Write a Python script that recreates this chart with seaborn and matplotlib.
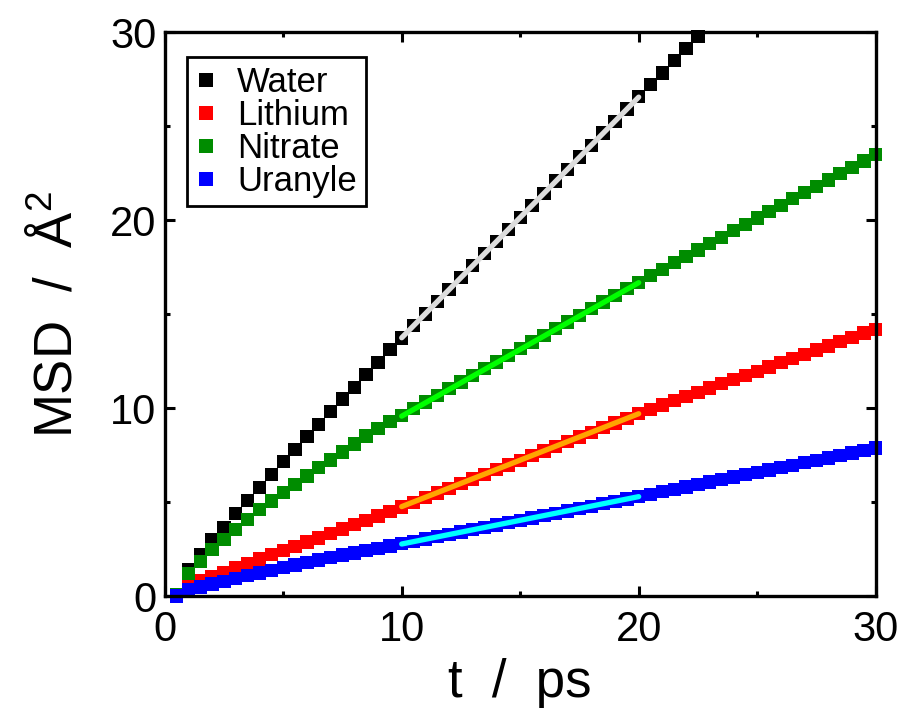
import numpy as np
import pandas as pd
import seaborn as sns
from matplotlib import pyplot as plt


# time grid of the MSD curves (every 0.5 ps)
t_ps = np.arange(0.5, 30.01, 0.5)

# MSD (A^2); water leaves the frame after 22.5 ps
water = [0.10, 1.43, 2.20, 3.00, 3.66, 4.42, 5.09, 5.78, 6.46, 7.17,
         7.82, 8.50, 9.15, 9.83, 10.49, 11.11, 11.78, 12.44, 13.11, 13.73,
         14.40, 15.02, 15.68, 16.30, 16.96, 17.58, 18.24, 18.86, 19.52, 20.14,
         20.80, 21.42, 22.08, 22.70, 23.36, 23.98, 24.64, 25.26, 25.92, 26.58,
         27.22, 27.84, 28.48, 29.12, 29.76]
lithium = [0.05, 0.57, 0.83, 1.06, 1.28, 1.51, 1.76, 1.99, 2.22, 2.45,
           2.66, 2.88, 3.10, 3.33, 3.57, 3.80, 4.04, 4.27, 4.51, 4.75,
           5.00, 5.25, 5.50, 5.74, 5.99, 6.24, 6.49, 6.74, 6.98, 7.23,
           7.48, 7.73, 7.98, 8.22, 8.47, 8.72, 8.97, 9.22, 9.46, 9.71,
           9.94, 10.17, 10.40, 10.62, 10.85, 11.07, 11.30, 11.52, 11.75, 11.97,
           12.20, 12.42, 12.65, 12.87, 13.10, 13.32, 13.55, 13.77, 14.00, 14.20]
nitrate = [0.08, 1.22, 1.85, 2.47, 3.02, 3.56, 4.10, 4.60, 5.06, 5.52,
           5.95, 6.40, 6.84, 7.24, 7.67, 8.10, 8.52, 8.92, 9.30, 9.62,
           9.97, 10.33, 10.68, 11.04, 11.39, 11.75, 12.10, 12.46, 12.81, 13.17,
           13.52, 13.88, 14.23, 14.59, 14.94, 15.30, 15.65, 16.01, 16.36, 16.70,
           17.05, 17.39, 17.74, 18.08, 18.42, 18.76, 19.10, 19.44, 19.78, 20.12,
           20.46, 20.80, 21.14, 21.47, 21.81, 22.14, 22.48, 22.82, 23.15, 23.50]
uranyle = [0.02, 0.36, 0.49, 0.65, 0.80, 0.94, 1.10, 1.24, 1.38, 1.52,
           1.66, 1.79, 1.93, 2.06, 2.19, 2.31, 2.43, 2.55, 2.67, 2.79,
           2.92, 3.04, 3.17, 3.29, 3.42, 3.54, 3.67, 3.79, 3.92, 4.04,
           4.17, 4.29, 4.42, 4.54, 4.67, 4.79, 4.92, 5.04, 5.17, 5.30,
           5.43, 5.56, 5.69, 5.82, 5.95, 6.08, 6.21, 6.34, 6.46, 6.59,
           6.72, 6.84, 6.97, 7.10, 7.23, 7.36, 7.49, 7.62, 7.75, 7.88]

species = ['Water', 'Lithium', 'Nitrate', 'Uranyle']
marker_colors = ['black', 'red', '#008c00', 'blue']

# linear fits over 10-20 ps
fit_t = [10, 20]
fit_water = [13.75, 26.55]
fit_lithium = [4.77, 9.71]
fit_nitrate = [9.58, 16.68]
fit_uranyle = [2.78, 5.30]
fit_colors = ['#dcdcdc', '#ffa500', '#00ff00', '#00ffff']


sns.set_style("ticks", {'axes.edgecolor': 'black', 'text.color': 'black',
                        'axes.labelcolor': 'black', 'xtick.color': 'black',
                        'ytick.color': 'black'})
plt.rcParams['font.family'] = ['Liberation Sans', 'DejaVu Sans']
plt.rcParams['mathtext.fontset'] = 'custom'
plt.rcParams['mathtext.rm'] = 'Liberation Sans'
plt.rcParams['mathtext.it'] = 'Liberation Sans'

frames = []
for name, vals in zip(species, [water, lithium, nitrate, uranyle]):
    frames.append(pd.DataFrame({'t': t_ps[:len(vals)], 'msd': vals, 'species': name}))
msd_df = pd.concat(frames, ignore_index=True)

fit_frames = []
for name, vals in zip(species, [fit_water, fit_lithium, fit_nitrate, fit_uranyle]):
    fit_frames.append(pd.DataFrame({'t': fit_t, 'msd': vals, 'species': name}))
fit_df = pd.concat(fit_frames, ignore_index=True)

fig = plt.figure(figsize=(9, 7.09), dpi=100)
ax = fig.add_axes([0.183, 0.159, 0.790, 0.7955])

sns.scatterplot(data=msd_df, x='t', y='msd', hue='species', hue_order=species,
                palette=marker_colors, marker='s', s=92, linewidth=0,
                clip_on=False, zorder=2, legend=False, ax=ax)
sns.lineplot(data=fit_df, x='t', y='msd', hue='species', hue_order=species,
             palette=fit_colors, linewidth=3.8, legend=False, zorder=3, ax=ax)

ax.set_xlim(0, 30)
ax.set_ylim(0, 30)
ax.set_xticks([0, 10, 20, 30])
ax.set_yticks([0, 10, 20, 30])
ax.set_xticks([5, 15, 25], minor=True)
ax.set_yticks([5, 15, 25], minor=True)
ax.tick_params(which='both', direction='in', top=True, right=True, width=2.2,
               color='black', labelcolor='black')
ax.tick_params(which='major', length=7, labelsize=30)
ax.tick_params(which='minor', length=3.5)
ax.tick_params(axis='x', pad=10)
ax.tick_params(axis='y', pad=6)
for sp in ax.spines.values():
    sp.set_linewidth(2.4)
    sp.set_color('black')

ax.set_xlabel('t  /  ps', fontsize=38, labelpad=6, color='black')
ax.set_ylabel(r'MSD  /  Å$^{2}$', fontsize=38, labelpad=20, color='black')

handles = [plt.Line2D([], [], linestyle='none', marker='s', markersize=9.5,
                      markerfacecolor=c, markeredgewidth=0) for c in marker_colors]
leg = ax.legend(handles, species, loc='upper left', bbox_to_anchor=(0.031, 0.956),
                fontsize=25, frameon=True, fancybox=False, framealpha=1,
                edgecolor='black', borderpad=0.25, labelspacing=0.0,
                handlelength=0.6, handletextpad=0.6, borderaxespad=0)
leg.get_frame().set_linewidth(2.0)
for txt in leg.get_texts():
    txt.set_color('black')

plt.savefig("out.png", dpi=100)
